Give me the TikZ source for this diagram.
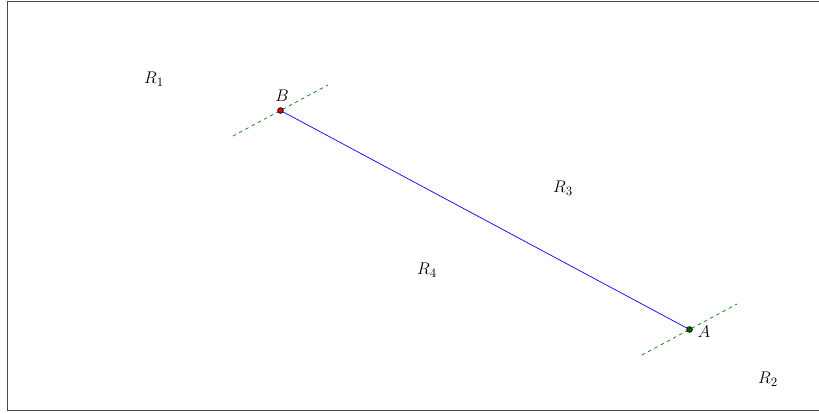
\documentclass[tikz,border=0pt]{standalone}
\usetikzlibrary{positioning, calc}
\usepackage{xcolor}
\definecolor{FrameGray}{HTML}{4A4A4A}
\definecolor{SegBlue}{HTML}{0000FF}
\definecolor{PerpGreen}{HTML}{008000}
\definecolor{DotRed}{HTML}{E00000}
\definecolor{DotGreen}{HTML}{006400}
\tikzset{
    % Point markers
    endpoint/.style={
        circle,
        draw=black,
        line width=0.5pt,
        inner sep=0pt,
        minimum size=5pt
    },
    % Line styles
    segment/.style={
        draw=SegBlue,
        line width=0.6pt
    },
    perpline/.style={
        draw=PerpGreen,
        line width=0.6pt,
        dashed
    },
    % Labels
    region/.style={
        font=\fontsize{15}{17}\selectfont
    },
    ptlabel/.style={
        font=\fontsize{15}{17}\selectfont
    }
}

\begin{document}
\begin{tikzpicture}[x=0.03cm, y=-0.03cm]
    \useasboundingbox (0,0) rectangle (819,413);
    \draw[FrameGray, line width=1.4pt] (7.5,1.5) rectangle (822,410.5);

    % dashed lines through the end points
    \coordinate (b1) at (233,136);
    \coordinate (b2) at (328,85);
    \coordinate (a1) at (642,355);
    \coordinate (a2) at (737,304);
    \draw[perpline] (b1) -- (b2);
    \draw[perpline] (a1) -- (a2);

    \node[endpoint, fill=DotRed] (B) at (280.5,110.5) {};
    \node[endpoint, fill=DotGreen] (A) at (689.5,329.5) {};
    \draw[segment] (B) -- (A);

    \node[ptlabel] (labB) at (282,96) {$B$};
    \node[ptlabel] (labA) at (704,332) {$A$};

    \node[region] (r1) at (154,79) {$R_1$};
    \node[region] (r2) at (768,379) {$R_2$};
    \node[region] (r3) at (563,188) {$R_3$};
    \node[region] (r4) at (427,270) {$R_4$};
\end{tikzpicture}
\end{document}
